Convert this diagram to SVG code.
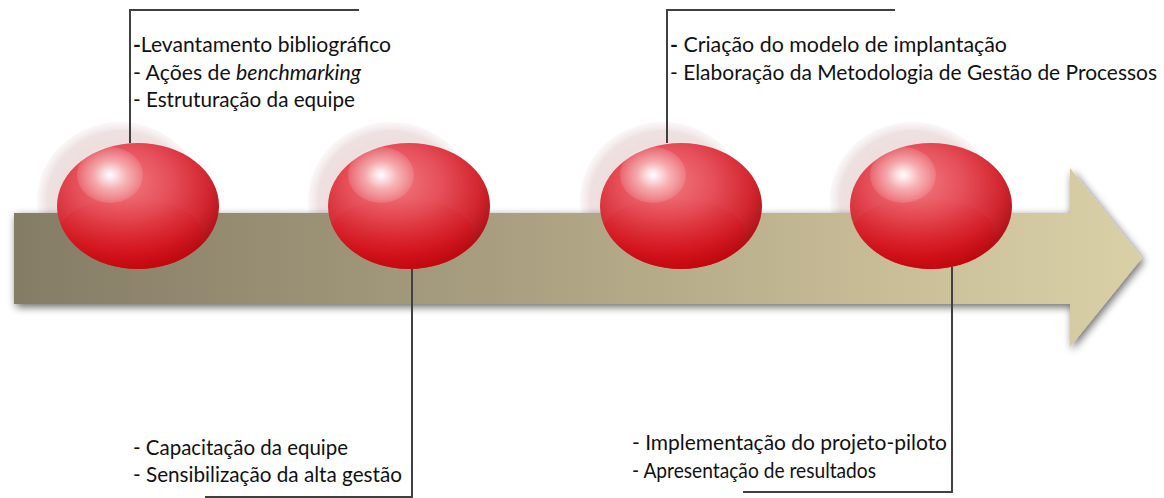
<svg xmlns="http://www.w3.org/2000/svg" width="1164" height="498" viewBox="0 0 1164 498">
<style>
text{font-family:"Lato","Open Sans","Liberation Sans",sans-serif;font-size:21px;fill:#111111}
.conn{fill:none;stroke:#404040;stroke-width:2}
.halo{fill:url(#haloG)}
.ball{fill:url(#ballG)}
.shade{fill:url(#shadeG)}
.hl{fill:url(#hlG)}
</style>
<defs>
<linearGradient id="arrowG" x1="0" y1="0" x2="1" y2="0">
<stop offset="0" stop-color="#847c65"/>
<stop offset="0.4" stop-color="#a69c7e"/>
<stop offset="0.75" stop-color="#c6bb95"/>
<stop offset="1" stop-color="#dad0a8"/>
</linearGradient>
<radialGradient id="haloG" cx="0.5" cy="0.5" r="0.5">
<stop offset="0" stop-color="#e3c9c9" stop-opacity="0.8"/>
<stop offset="0.88" stop-color="#e8d4d4" stop-opacity="0.7"/>
<stop offset="1" stop-color="#efe2e2" stop-opacity="0.25"/>
</radialGradient>
<radialGradient id="ballG" cx="0.42" cy="0.35" r="0.72" fx="0.4" fy="0.3">
<stop offset="0" stop-color="#f27a80"/>
<stop offset="0.4" stop-color="#e6505a"/>
<stop offset="0.72" stop-color="#d32630"/>
<stop offset="1" stop-color="#9a080e"/>
</radialGradient>
<linearGradient id="shadeG" x1="0" y1="0" x2="0" y2="1">
<stop offset="0" stop-color="#d80008" stop-opacity="0"/>
<stop offset="0.5" stop-color="#d80008" stop-opacity="0.25"/>
<stop offset="1" stop-color="#d80008" stop-opacity="0.6"/>
</linearGradient>
<radialGradient id="hlG" cx="0.5" cy="0.5" r="0.5">
<stop offset="0" stop-color="#ffffff" stop-opacity="1"/>
<stop offset="0.5" stop-color="#ffffff" stop-opacity="0.45"/>
<stop offset="1" stop-color="#ffffff" stop-opacity="0.12"/>
</radialGradient>
<clipPath id="ballClip"><ellipse cx="0" cy="0" rx="81" ry="63"/></clipPath>
<filter id="shadow" x="-5%" y="-30%" width="115%" height="160%">
<feGaussianBlur in="SourceAlpha" stdDeviation="4"/>
<feOffset dx="2" dy="3" result="b"/>
<feComponentTransfer><feFuncA type="linear" slope="0.6"/></feComponentTransfer>
<feMerge><feMergeNode/><feMergeNode in="SourceGraphic"/></feMerge>
</filter>
<g id="ballShape">
<ellipse class="ball" cx="0" cy="0" rx="81" ry="63"/>
<ellipse class="shade" cx="-8" cy="28" rx="72" ry="36" clip-path="url(#ballClip)"/>
<ellipse class="hl" cx="-28" cy="-31" rx="33" ry="28"/>
</g>
</defs>

<g id="halos">
<ellipse class="halo" cx="120" cy="200" rx="83" ry="78"/>
<ellipse class="halo" cx="391" cy="200" rx="83" ry="78"/>
<ellipse class="halo" cx="663" cy="200" rx="83" ry="78"/>
<ellipse class="halo" cx="913" cy="200" rx="83" ry="78"/>
</g>

<g id="arrow" filter="url(#shadow)">
<path d="M14,213 H1070 V168 L1142,258 L1070,347 V304 H14 Z" fill="url(#arrowG)"/>
</g>

<g id="connectors">
<path class="conn" d="M130,143 V10 H359"/>
<path class="conn" d="M412,269 V497 H205"/>
<path class="conn" d="M667,143 V10 H895"/>
<path class="conn" d="M952,267 V492 H743"/>
</g>

<g id="node1"><use href="#ballShape" x="138" y="206"/></g>
<g id="node2"><use href="#ballShape" x="409" y="206"/></g>
<g id="node3"><use href="#ballShape" x="681" y="206"/></g>
<g id="node4"><use href="#ballShape" x="931" y="206"/></g>

<g id="label1">
<text x="133" y="52" textLength="258" lengthAdjust="spacingAndGlyphs"><tspan font-weight="700">-</tspan>Levantamento bibliográfico</text>
<text x="133" y="80" textLength="228" lengthAdjust="spacingAndGlyphs">- Ações de <tspan font-style="italic">benchmarking</tspan></text>
<text x="133" y="107" textLength="222" lengthAdjust="spacingAndGlyphs">- Estruturação da equipe</text>
</g>
<g id="label2">
<text x="133" y="455" textLength="215" lengthAdjust="spacingAndGlyphs">- Capacitação da equipe</text>
<text x="133" y="482" textLength="269" lengthAdjust="spacingAndGlyphs">- Sensibilização da alta gestão</text>
</g>
<g id="label3">
<text x="670" y="52" textLength="337" lengthAdjust="spacingAndGlyphs"><tspan font-weight="700">-</tspan> Criação do modelo de implantação</text>
<text x="670" y="80" textLength="487" lengthAdjust="spacingAndGlyphs">- Elaboração da Metodologia de Gestão de Processos</text>
</g>
<g id="label4">
<text x="632" y="450" textLength="315" lengthAdjust="spacingAndGlyphs">- Implementação do projeto-piloto</text>
<text x="632" y="478" textLength="244" lengthAdjust="spacingAndGlyphs">- Apresentação de resultados</text>
</g>
</svg>
